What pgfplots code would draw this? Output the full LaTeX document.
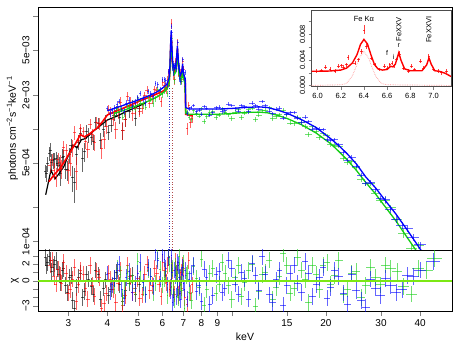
\documentclass[border=0pt]{standalone}
\usepackage{fontspec}
\setmainfont{Liberation Sans}
\usepackage{pgfplots}
\pgfplotsset{compat=1.18}
\usepackage{pgfplotstable}

\definecolor{rblue}{RGB}{0,0,255}
\definecolor{rgreen}{RGB}{20,205,20}
\definecolor{rred}{RGB}{255,0,0}
\definecolor{zeroline}{RGB}{124,232,20}
\definecolor{lpink}{RGB}{255,150,150}

% columns: energy, half bin width, flux, flux error, residual (chi)
\pgfplotstableread{
E ex y ey r
2.53 0.025 4.20e-4 5.7e-5 2.8
2.58 0.025 4.90e-4 7.3e-5 2.2
2.63 0.025 6.50e-4 9.2e-5 2.5
2.68 0.03 5.30e-4 8.6e-5 1.6
2.74 0.03 5.50e-4 7.9e-5 2.4
2.80 0.03 4.70e-4 8.8e-5 0.8
2.87 0.03 5.60e-4 9.7e-5 1.2
2.94 0.03 4.40e-4 7.8e-5 -0.6
3.02 0.035 5.90e-4 8.8e-5 0.4
3.10 0.035 3.70e-4 9.6e-5 -2.4
3.19 0.035 5.90e-4 1.09e-4 -0.8
3.28 0.04 9.20e-4 1.28e-4 0.9
3.38 0.04 6.30e-4 1.26e-4 -1.3
3.49 0.04 8.80e-4 1.36e-4 0.2
3.61 0.04 7.70e-4 1.14e-4 -1.6
3.74 0.045 1.12e-3 1.24e-4 0.7
3.88 0.045 9.80e-4 1.32e-4 -0.9
4.03 0.05 9.40e-4 1.44e-4 -1.8
4.20 0.05 1.32e-3 1.52e-4 0.3
4.38 0.05 1.27e-3 1.62e-4 -0.5
4.58 0.055 1.22e-3 1.72e-4 -1.2
4.80 0.06 1.63e-3 1.82e-4 0.6
5.05 0.06 1.52e-3 1.92e-4 -0.4
2.555 0.025 4.05e-4 6.4e-5 1.8
2.605 0.025 6.05e-4 8.1e-5 2.9
2.655 0.025 5.09e-4 9.0e-5 1.1
2.71 0.03 5.32e-4 8.1e-5 2.0
2.77 0.03 4.98e-4 8.4e-5 1.4
2.83 0.03 4.02e-4 9.2e-5 -0.2
2.90 0.03 5.71e-4 7.4e-5 1.5
2.98 0.035 4.34e-4 9.0e-5 -1.4
3.06 0.035 7.12e-4 1.04e-4 0.6
3.14 0.035 3.34e-4 1.14e-4 -3.3
3.23 0.04 7.66e-4 1.15e-4 0.4
3.33 0.04 5.47e-4 1.29e-4 -2.0
3.43 0.04 9.47e-4 1.34e-4 0.8
3.55 0.04 8.34e-4 1.09e-4 -0.7
3.67 0.045 1.145e-3 1.19e-4 1.3
3.81 0.045 7.94e-4 1.30e-4 -2.2
3.95 0.05 1.184e-3 1.40e-4 0.1
4.11 0.05 1.082e-3 1.48e-4 -1.0
4.29 0.05 1.456e-3 1.56e-4 1.0
4.48 0.055 9.65e-4 1.66e-4 -2.5
4.69 0.055 1.417e-3 1.76e-4 -0.3
4.92 0.06 1.252e-3 1.86e-4 -1.6
}\blackdata

\pgfplotstableread{
E ex y ey r
2.62 0.03 4.70e-4 6.3e-5 1.9
2.70 0.03 4.25e-4 7.0e-5 0.5
2.78 0.03 5.38e-4 7.7e-5 1.4
2.86 0.03 4.45e-4 8.5e-5 -0.3
2.95 0.04 6.39e-4 9.9e-5 0.9
3.04 0.04 4.97e-4 1.12e-4 -1.1
3.14 0.04 9.28e-4 1.30e-4 1.6
3.24 0.04 7.90e-4 1.01e-4 -0.5
3.35 0.04 9.42e-4 1.03e-4 0.8
3.46 0.05 6.62e-4 1.08e-4 -2.2
3.58 0.05 8.91e-4 1.15e-4 -0.6
3.70 0.05 1.154e-3 1.22e-4 1.1
3.83 0.05 6.78e-4 1.34e-4 -3.3
3.96 0.05 1.05e-3 1.54e-4 -1.5
4.10 0.06 1.41e-3 1.66e-4 0.2
4.25 0.06 9.90e-4 1.73e-4 -2.6
4.40 0.06 1.73e-3 1.80e-4 1.3
4.56 0.06 1.22e-3 1.87e-4 -1.8
4.73 0.07 1.73e-3 1.96e-4 0.5
4.90 0.07 1.52e-3 2.04e-4 -0.9
5.08 0.07 1.44e-3 1.59e-4 -2.1
5.27 0.07 1.97e-3 1.66e-4 0.8
5.46 0.08 1.70e-3 1.72e-4 -1.2
5.66 0.08 2.25e-3 1.78e-4 1.5
5.86 0.08 1.99e-3 1.85e-4 -0.4
6.02 0.05 2.58e-3 1.94e-4 2.2
6.14 0.05 2.34e-3 2.00e-4 0.6
6.24 0.04 2.73e-3 2.12e-4 1.8
6.32 0.03 2.64e-3 2.61e-4 -1.0
6.37 0.02 4.46e-3 4.30e-4 -0.8
6.40 0.02 8.60e-3 9.50e-4 1.9
6.43 0.02 5.90e-3 5.00e-4 0.6
6.48 0.03 3.98e-3 3.20e-4 1.2
6.56 0.03 2.74e-3 2.90e-4 -1.6
6.64 0.03 3.68e-3 3.10e-4 0.9
6.70 0.02 5.86e-3 4.70e-4 1.4
6.78 0.03 3.00e-3 2.90e-4 -0.7
6.88 0.03 3.16e-3 2.60e-4 1.0
6.97 0.03 3.96e-3 3.10e-4 1.8
7.06 0.03 2.38e-3 2.60e-4 -2.0
7.20 0.05 1.01e-3 1.22e-4 -2.8
7.38 0.06 1.14e-3 1.19e-4 -1.5
2.66 0.03 5.37e-4 6.7e-5 2.5
2.74 0.03 3.80e-4 7.4e-5 -0.4
2.82 0.03 5.01e-4 8.0e-5 0.7
2.90 0.03 6.91e-4 8.9e-5 2.2
3.00 0.04 4.31e-4 1.06e-4 -1.5
3.09 0.04 6.84e-4 1.19e-4 0.2
3.19 0.04 4.23e-4 1.39e-4 -2.5
3.29 0.04 1.007e-3 1.06e-4 1.2
3.40 0.04 7.67e-4 1.03e-4 -0.9
3.52 0.05 1.106e-3 1.09e-4 1.8
3.64 0.05 7.56e-4 1.18e-4 -1.9
3.76 0.05 1.111e-3 1.27e-4 0.4
3.90 0.05 8.11e-4 1.44e-4 -2.7
4.03 0.05 1.485e-3 1.61e-4 0.9
4.18 0.06 1.224e-3 1.69e-4 -1.1
4.33 0.06 1.408e-3 1.75e-4 -0.3
4.48 0.06 9.78e-4 1.84e-4 -3.0
4.64 0.06 1.953e-3 1.91e-4 1.9
4.82 0.07 1.381e-3 1.99e-4 -1.4
5.00 0.07 1.787e-3 1.57e-4 0.3
5.18 0.07 1.533e-3 1.63e-4 -1.7
5.37 0.08 2.218e-3 1.69e-4 2.0
5.56 0.08 1.835e-3 1.75e-4 -0.6
5.76 0.08 2.184e-3 1.82e-4 0.9
5.94 0.06 1.749e-3 1.90e-4 -1.9
6.08 0.05 2.446e-3 1.97e-4 1.3
6.19 0.04 2.239e-3 2.05e-4 -0.2
6.28 0.03 3.153e-3 2.25e-4 2.9
6.52 0.03 3.02e-3 3.00e-4 -1.1
6.60 0.03 3.99e-3 3.00e-4 2.3
6.74 0.03 3.27e-3 3.50e-4 -1.8
6.83 0.03 3.108e-3 2.70e-4 0.4
6.92 0.03 2.757e-3 2.70e-4 -0.9
7.01 0.03 3.348e-3 2.65e-4 1.5
7.28 0.05 1.618e-3 1.20e-4 2.4
7.47 0.06 1.242e-3 1.17e-4 -0.5
}\reddata

\pgfplotstableread{
E ex y ey r
4.20 0.03 1.321e-3 8.2e-5 -0.6
4.40 0.03 1.488e-3 8.5e-5 0.8
4.55 0.03 1.373e-3 8.9e-5 -1.2
4.70 0.03 1.558e-3 9.2e-5 0.3
4.90 0.04 1.504e-3 9.5e-5 -0.9
5.10 0.04 1.770e-3 1.00e-4 1.1
5.30 0.04 1.564e-3 1.04e-4 -1.6
5.50 0.04 1.854e-3 1.08e-4 0.5
5.70 0.04 1.856e-3 1.13e-4 -0.3
5.90 0.04 2.168e-3 1.20e-4 1.4
6.08 0.03 2.166e-3 1.28e-4 0.2
6.22 0.03 2.052e-3 1.38e-4 -1.8
6.32 0.02 3.360e-3 1.80e-4 2.0
6.39 0.02 5.173e-3 3.24e-4 -0.7
6.46 0.02 4.687e-3 2.58e-4 1.5
6.55 0.03 2.715e-3 1.89e-4 -2.3
6.64 0.03 3.794e-3 2.16e-4 0.9
6.71 0.02 4.016e-3 2.58e-4 -1.1
6.78 0.03 3.639e-3 1.86e-4 2.9
6.87 0.03 2.733e-3 1.68e-4 -0.4
6.96 0.03 3.074e-3 1.74e-4 1.0
7.04 0.03 2.246e-3 1.68e-4 -3.3
7.14 0.05 1.386e-3 6.1e-5 0.6
7.30 0.07 1.265e-3 6.1e-5 -1.4
7.55 0.09 1.453e-3 6.1e-5 1.7
7.85 0.1 1.301e-3 6.1e-5 -0.8
8.15 0.1 1.168e-3 6.1e-5 -3.0
8.50 0.12 1.405e-3 6.1e-5 0.9
8.90 0.15 1.259e-3 6.1e-5 -1.5
9.30 0.15 1.495e-3 6.1e-5 2.2
9.75 0.18 1.333e-3 6.2e-5 -0.6
10.25 0.2 1.405e-3 6.2e-5 0.4
10.75 0.2 1.271e-3 6.3e-5 -1.9
11.3 0.22 1.476e-3 6.3e-5 1.2
11.9 0.25 1.213e-3 6.3e-5 -3.1
12.5 0.25 1.454e-3 6.3e-5 0.7
13.15 0.3 1.546e-3 6.3e-5 2.5
13.85 0.3 1.292e-3 6.0e-5 -0.8
14.6 0.35 1.470e-3 5.8e-5 3.3
15.4 0.35 1.128e-3 5.4e-5 -1.5
16.25 0.4 1.272e-3 5.1e-5 2.8
17.15 0.4 1.055e-3 4.7e-5 0.1
18.1 0.45 1.042e-3 4.3e-5 1.9
19.1 0.45 8.36e-4 4.0e-5 -1.1
20.15 0.5 8.68e-4 3.6e-5 2.2
21.3 0.55 7.19e-4 3.2e-5 0.6
22.7 0.6 5.45e-4 2.7e-5 -1.7
24.2 0.7 5.10e-4 2.2e-5 0.9
25.9 0.8 3.55e-4 1.8e-5 -2.0
27.8 0.9 3.27e-4 1.4e-5 1.6
29.9 1.0 2.30e-4 1.1e-5 -0.5
32.2 1.2 1.99e-4 1.4e-5 1.5
35.5 1.5 1.18e-4 1.0e-5 -0.7
39.5 1.8 9.30e-5 6.6e-6 1.5
44.5 2.5 6.10e-5 4.0e-6 2.7
4.30 0.03 1.521e-3 8.4e-5 1.5
4.48 0.03 1.276e-3 8.7e-5 -2.0
4.62 0.03 1.586e-3 9.0e-5 0.9
4.80 0.04 1.541e-3 9.4e-5 -0.2
5.00 0.04 1.849e-3 9.8e-5 2.3
5.20 0.04 1.614e-3 1.02e-4 -0.8
5.40 0.04 1.903e-3 1.06e-4 1.3
5.60 0.04 1.690e-3 1.10e-4 -1.4
5.80 0.04 2.260e-3 1.17e-4 2.7
6.00 0.04 2.008e-3 1.24e-4 -0.5
6.15 0.03 2.345e-3 1.32e-4 1.1
6.27 0.03 2.832e-3 1.44e-4 3.0
6.42 0.02 6.325e-3 3.50e-4 1.2
6.50 0.03 3.169e-3 2.00e-4 -0.9
6.60 0.03 3.416e-3 1.90e-4 1.7
6.68 0.02 4.377e-3 2.60e-4 0.3
6.74 0.02 3.256e-3 2.20e-4 -2.0
6.82 0.03 3.072e-3 1.70e-4 1.3
6.92 0.03 2.645e-3 1.70e-4 -1.2
7.00 0.03 3.209e-3 1.70e-4 2.1
7.22 0.06 1.405e-3 6.1e-5 0.9
7.42 0.08 1.204e-3 6.1e-5 -2.4
7.70 0.1 1.368e-3 6.1e-5 0.3
8.00 0.1 1.508e-3 6.1e-5 2.6
8.32 0.12 1.283e-3 6.1e-5 -1.1
8.70 0.15 1.441e-3 6.1e-5 1.5
9.10 0.15 1.326e-3 6.1e-5 -0.4
9.52 0.15 1.415e-3 6.1e-5 0.9
10.0 0.2 1.228e-3 6.2e-5 -2.3
10.5 0.2 1.497e-3 6.2e-5 1.8
11.0 0.2 1.387e-3 6.3e-5 -0.2
11.6 0.25 1.531e-3 6.3e-5 2.0
12.2 0.25 1.328e-3 6.3e-5 -1.3
12.8 0.3 1.463e-3 6.3e-5 1.0
13.5 0.3 1.230e-3 6.1e-5 -2.2
14.2 0.3 1.339e-3 5.9e-5 0.5
15.0 0.35 1.340e-3 5.6e-5 1.8
15.8 0.35 1.123e-3 5.3e-5 -0.9
16.7 0.4 1.154e-3 4.9e-5 1.3
17.6 0.4 8.87e-4 4.5e-5 -2.6
18.6 0.45 9.53e-4 4.1e-5 0.8
19.6 0.45 9.06e-4 3.8e-5 1.9
20.7 0.5 7.27e-4 3.3e-5 -0.4
22.0 0.6 6.98e-4 2.8e-5 2.4
23.4 0.6 5.06e-4 2.4e-5 -1.0
25.0 0.7 4.51e-4 1.9e-5 1.1
26.8 0.8 3.26e-4 1.5e-5 -0.6
28.8 0.9 2.70e-4 1.2e-5 0.4
31.0 1.0 2.33e-4 1.6e-5 1.9
33.8 1.2 1.58e-4 1.2e-5 1.1
37.5 1.5 8.70e-5 8.0e-6 -1.6
42.0 2.0 7.00e-5 5.0e-6 1.2
}\greendata

\pgfplotstableread{
E ex y ey r
4.00 0.03 1.520e-3 8.7e-5 0.8
4.15 0.03 1.455e-3 9.0e-5 -0.5
4.30 0.03 1.662e-3 9.3e-5 1.2
4.45 0.03 1.504e-3 9.6e-5 -1.0
4.60 0.03 1.700e-3 1.00e-4 0.4
4.80 0.04 1.585e-3 1.04e-4 -1.4
5.00 0.04 1.897e-3 1.08e-4 0.9
5.20 0.04 1.857e-3 1.13e-4 -0.2
5.40 0.04 2.148e-3 1.18e-4 1.6
5.60 0.04 1.964e-3 1.23e-4 -0.7
5.80 0.04 2.460e-3 1.29e-4 2.4
6.00 0.04 2.742e-3 1.38e-4 3.2
6.15 0.03 2.671e-3 1.47e-4 1.5
6.28 0.03 3.212e-3 1.65e-4 2.8
6.36 0.02 4.269e-3 2.76e-4 -1.2
6.42 0.02 7.208e-3 4.08e-4 1.0
6.50 0.03 3.168e-3 2.16e-4 -2.0
6.60 0.03 3.626e-3 2.10e-4 0.6
6.68 0.02 4.379e-3 2.76e-4 -0.8
6.74 0.02 4.321e-3 2.34e-4 1.8
6.82 0.03 2.821e-3 1.86e-4 -1.5
6.92 0.03 3.230e-3 1.86e-4 0.7
7.00 0.03 3.142e-3 1.92e-4 -0.3
7.08 0.03 3.162e-3 1.77e-4 1.2
7.20 0.06 1.368e-3 6.0e-5 -2.2
7.40 0.08 1.554e-3 6.0e-5 0.9
7.70 0.1 1.422e-3 6.0e-5 -1.3
8.00 0.1 1.350e-3 6.0e-5 -2.5
8.30 0.12 1.524e-3 6.0e-5 0.4
8.70 0.15 1.392e-3 6.0e-5 -1.8
9.10 0.15 1.566e-3 6.0e-5 1.1
9.50 0.15 1.456e-3 6.0e-5 -0.9
10.0 0.2 1.611e-3 6.1e-5 1.5
10.5 0.2 1.441e-3 6.2e-5 -1.6
11.0 0.2 1.569e-3 6.2e-5 0.3
11.6 0.25 1.691e-3 6.2e-5 2.1
12.2 0.25 1.495e-3 6.3e-5 -1.2
12.8 0.3 1.610e-3 6.2e-5 0.8
13.5 0.3 1.362e-3 6.1e-5 -2.6
14.2 0.3 1.525e-3 5.8e-5 1.3
15.0 0.35 1.347e-3 5.5e-5 -0.6
15.8 0.35 1.399e-3 5.2e-5 1.9
16.7 0.4 1.142e-3 4.8e-5 -1.4
17.6 0.4 1.160e-3 4.5e-5 0.9
18.6 0.45 1.009e-3 4.1e-5 -0.5
19.6 0.45 9.90e-4 3.7e-5 1.6
20.7 0.5 7.94e-4 3.3e-5 -0.8
22.0 0.6 7.24e-4 2.8e-5 0.5
23.4 0.6 5.30e-4 2.4e-5 -2.9
25.0 0.7 4.66e-4 2.0e-5 -1.2
26.8 0.8 3.27e-4 1.5e-5 -3.2
28.8 0.9 2.89e-4 1.2e-5 -0.9
31.0 1.0 2.35e-4 1.6e-5 0.3
33.5 1.2 1.58e-4 1.2e-5 -1.4
36.5 1.4 1.30e-4 8.8e-6 0.6
40.0 1.8 9.38e-5 6.0e-6 1.3
44.0 2.2 6.70e-5 4.1e-6 2.3
4.08 0.03 1.360e-3 8.9e-5 -1.3
4.22 0.03 1.552e-3 9.2e-5 0.3
4.37 0.03 1.764e-3 9.5e-5 2.0
4.52 0.03 1.425e-3 9.8e-5 -2.1
4.70 0.04 1.807e-3 1.02e-4 1.1
4.90 0.04 1.723e-3 1.06e-4 -0.4
5.10 0.04 2.083e-3 1.10e-4 2.2
5.30 0.04 1.724e-3 1.15e-4 -1.7
5.50 0.04 2.060e-3 1.20e-4 0.5
5.70 0.04 2.528e-3 1.26e-4 3.4
5.90 0.04 2.247e-3 1.33e-4 0.2
6.08 0.03 2.751e-3 1.43e-4 2.6
6.22 0.03 2.474e-3 1.53e-4 -0.5
6.39 0.02 8.06e-3 4.10e-4 3.1
6.46 0.02 3.545e-3 2.50e-4 -2.6
6.55 0.03 3.665e-3 2.00e-4 1.3
6.64 0.03 3.455e-3 2.30e-4 -1.9
6.71 0.02 5.886e-3 3.10e-4 2.2
6.78 0.03 3.482e-3 2.00e-4 0.4
6.87 0.03 2.629e-3 1.80e-4 -2.3
6.96 0.03 4.165e-3 2.30e-4 1.6
7.04 0.03 2.820e-3 1.80e-4 -1.0
7.30 0.07 1.512e-3 6.0e-5 0.2
7.55 0.09 1.614e-3 6.0e-5 1.9
7.85 0.1 1.464e-3 6.0e-5 -0.6
8.15 0.1 1.584e-3 6.0e-5 1.4
8.50 0.12 1.326e-3 6.0e-5 -2.9
8.90 0.15 1.542e-3 6.0e-5 0.7
9.30 0.15 1.416e-3 6.0e-5 -1.4
9.75 0.18 1.661e-3 6.0e-5 2.5
10.25 0.2 1.506e-3 6.1e-5 -0.4
10.75 0.2 1.607e-3 6.2e-5 1.0
11.3 0.22 1.418e-3 6.2e-5 -2.2
11.9 0.25 1.603e-3 6.3e-5 0.6
12.5 0.25 1.747e-3 6.3e-5 2.9
13.15 0.3 1.440e-3 6.2e-5 -1.7
13.85 0.3 1.496e-3 6.0e-5 0.1
14.6 0.35 1.250e-3 5.7e-5 -3.0
15.4 0.35 1.388e-3 5.4e-5 0.9
16.25 0.4 1.240e-3 5.0e-5 -0.3
17.15 0.4 1.272e-3 4.7e-5 2.3
18.1 0.45 9.93e-4 4.3e-5 -1.9
19.1 0.45 9.96e-4 3.9e-5 0.4
20.15 0.5 8.02e-4 3.5e-5 -2.1
21.3 0.55 8.07e-4 3.1e-5 1.2
22.7 0.6 6.16e-4 2.6e-5 -1.5
24.2 0.7 5.62e-4 2.2e-5 0.8
25.9 0.8 3.89e-4 1.7e-5 -2.4
27.8 0.9 3.38e-4 1.3e-5 0.2
29.9 1.0 2.43e-4 1.0e-5 -1.8
32.2 1.2 1.92e-4 1.4e-5 -0.6
35.0 1.4 1.38e-4 1.0e-5 -1.1
38.0 1.6 1.09e-4 7.4e-6 0.5
}\bluedata

% zoom on the iron lines (red spectrum only)
\pgfplotstableread{
E ex y ey
5.993 0.012 0.00222 0.0003
6.036 0.012 0.00233 0.0003
6.070 0.012 0.00284 0.0003
6.107 0.012 0.00258 0.0003
6.150 0.012 0.00222 0.0003
6.179 0.012 0.00299 0.0003
6.208 0.012 0.00310 0.0003
6.222 0.012 0.00290 0.0003
6.250 0.012 0.00326 0.0003
6.265 0.008 0.00439 0.0004
6.322 0.012 0.00352 0.0003
6.351 0.012 0.00403 0.0003
6.380 0.010 0.00532 0.0004
6.402 0.008 0.00868 0.0007
6.423 0.010 0.00609 0.0004
6.466 0.012 0.00429 0.0003
6.494 0.012 0.00326 0.0003
6.537 0.012 0.00248 0.0003
6.580 0.012 0.00299 0.0003
6.604 0.012 0.00274 0.0003
6.623 0.010 0.00326 0.0003
6.643 0.010 0.00352 0.0003
6.660 0.010 0.00310 0.0003
6.681 0.010 0.00403 0.0003
6.709 0.010 0.00491 0.0004
6.738 0.012 0.00274 0.0003
6.781 0.012 0.00222 0.0003
6.810 0.012 0.00299 0.0003
6.838 0.012 0.00248 0.0003
6.890 0.012 0.00377 0.0003
6.910 0.012 0.00274 0.0003
6.959 0.010 0.00454 0.0004
6.996 0.012 0.00248 0.0003
7.039 0.012 0.00222 0.0003
7.068 0.012 0.00197 0.0003
7.111 0.015 0.00222 0.0003
}\insetdata

% crosses only: a zero-size dash as mark, the error bars make the cross
\pgfplotsset{
  dat/.style={only marks, mark=-, mark size=0pt,
    error bars/.cd, x dir=both, x explicit, y dir=both, y explicit, error mark=none,
    error bar style={#1, line width=0.8pt, opacity=0.6}},
  res/.style={only marks, mark=-, mark size=0pt,
    error bars/.cd, x dir=both, x explicit, y dir=both, y fixed=1, error mark=none,
    error bar style={#1, line width=0.8pt, opacity=0.6}},
}

\begin{document}
\begin{tikzpicture}
\useasboundingbox (-38pt,-95pt) rectangle (422pt,250pt);

% ---- main spectrum ----
\begin{axis}[
    at={(0pt,0pt)}, anchor=south west, scale only axis,
    width=414pt, height=243pt,
    xmode=log, ymode=log,
    xmin=2.4, xmax=50.6, ymin=8.4e-5, ymax=1.21e-2,
    xtick=\empty,
    ytick={1e-4,2e-4,5e-4,1e-3,2e-3,5e-3,1e-2},
    yticklabels={1e−04,,5e−04,,2e−03,5e−03,},
    ytick pos=left, tick align=outside, major tick length=5pt,
    xminorticks=false, yminorticks=false,
    yticklabel style={rotate=90, anchor=south, font=\fontsize{10}{12}\selectfont},
    ylabel={photons cm\textsuperscript{−2}s\textsuperscript{−1}keV\textsuperscript{−1}},
    ylabel style={at={(axis description cs:-0.062,0.5)}, anchor=center, font=\fontsize{10.5}{12}\selectfont},
    axis line style={line width=0.6pt},
]
\addplot[dat=black] table[x=E, y=y, x error=ex, y error=ey] {\blackdata};
\addplot[black, line width=1.2pt] coordinates {
    (2.54,2.6e-4) (2.64,4.3e-4) (2.72,3.6e-4) (2.80,4.0e-4) (2.9,4.6e-4)
    (3.0,5.8e-4) (3.1,7.2e-4) (3.2,6.8e-4) (3.3,8.0e-4) (3.4,8.2e-4)
    (3.6,9.5e-4) (3.8,1.07e-3) (4.0,1.2e-3) (4.3,1.3e-3) (4.6,1.43e-3)
    (5.0,1.58e-3) (5.3,1.7e-3)};

\addplot[dat=rred] table[x=E, y=y, x error=ex, y error=ey] {\reddata};
\addplot[rred, line width=1.6pt] coordinates {
    (2.60,3.4e-4) (2.70,3.9e-4) (2.83,4.5e-4) (2.95,5.4e-4) (3.05,6.3e-4)
    (3.18,7.6e-4) (3.28,8.9e-4) (3.38,8.5e-4) (3.5,9.0e-4) (3.71,1.02e-3)
    (3.85,1.15e-3) (4.0,1.33e-3) (4.3,1.45e-3) (4.6,1.57e-3) (5.1,1.78e-3)
    (5.6,1.98e-3) (6.0,2.15e-3) (6.2,2.3e-3) (6.3,2.6e-3) (6.34,3.3e-3)
    (6.37,5.0e-3) (6.40,6.8e-3) (6.43,5.0e-3) (6.47,3.6e-3) (6.55,3.2e-3)
    (6.62,3.4e-3) (6.67,4.3e-3) (6.70,5.2e-3) (6.73,4.1e-3) (6.78,3.2e-3)
    (6.85,2.9e-3) (6.92,3.0e-3) (6.96,3.6e-3) (7.0,3.0e-3) (7.06,2.8e-3)
    (7.10,2.7e-3) (7.12,1.35e-3) (7.5,1.3e-3)};

\addplot[dat=rgreen] table[x=E, y=y, x error=ex, y error=ey] {\greendata};
\addplot[rgreen, line width=1.3pt] coordinates {
    (4.2,1.37e-3) (4.5,1.46e-3) (5.0,1.62e-3) (5.5,1.80e-3) (5.8,1.94e-3)
    (6.0,2.07e-3) (6.2,2.25e-3) (6.3,2.5e-3) (6.34,3.2e-3) (6.37,4.9e-3)
    (6.40,6.6e-3) (6.43,4.9e-3) (6.47,3.5e-3) (6.55,3.05e-3) (6.62,3.2e-3)
    (6.67,4.1e-3) (6.70,4.9e-3) (6.73,3.9e-3) (6.78,3.05e-3) (6.85,2.7e-3)
    (6.92,2.85e-3) (6.96,3.4e-3) (7.0,2.85e-3) (7.06,2.6e-3) (7.10,2.5e-3)
    (7.12,1.38e-3) (7.3,1.35e-3) (8,1.35e-3) (9,1.35e-3) (10,1.37e-3)
    (11,1.40e-3) (12.2,1.41e-3) (13,1.39e-3) (14,1.32e-3) (15,1.24e-3)
    (16.7,1.09e-3) (18.6,9.2e-4) (20.7,7.4e-4) (22,6.3e-4) (23.4,5.3e-4)
    (25,4.3e-4) (26.8,3.35e-4) (28.8,2.65e-4) (31,2.02e-4) (33.5,1.52e-4)
    (36.5,1.07e-4) (40,7.4e-5)};

\addplot[dat=rblue] table[x=E, y=y, x error=ex, y error=ey] {\bluedata};
\addplot[rblue, line width=1.3pt] coordinates {
    (4.0,1.45e-3) (4.5,1.62e-3) (5.0,1.80e-3) (5.5,2.0e-3) (5.8,2.15e-3)
    (6.0,2.3e-3) (6.2,2.5e-3) (6.3,2.8e-3) (6.34,3.6e-3) (6.37,5.5e-3)
    (6.40,7.5e-3) (6.43,5.5e-3) (6.47,3.9e-3) (6.55,3.4e-3) (6.62,3.6e-3)
    (6.67,4.6e-3) (6.70,5.5e-3) (6.73,4.4e-3) (6.78,3.4e-3) (6.85,3.0e-3)
    (6.92,3.2e-3) (6.96,3.8e-3) (7.0,3.2e-3) (7.06,2.9e-3) (7.10,2.8e-3)
    (7.12,1.55e-3) (7.3,1.5e-3) (8,1.5e-3) (9,1.5e-3) (10,1.52e-3)
    (11,1.55e-3) (12.2,1.57e-3) (13,1.55e-3) (14,1.47e-3) (15,1.38e-3)
    (16.7,1.21e-3) (18.6,1.03e-3) (20.7,8.2e-4) (22,7.1e-4) (23.4,6.0e-4)
    (25,4.9e-4) (26.8,3.75e-4) (28.8,3.0e-4) (31,2.3e-4) (33.5,1.75e-4)
    (36.5,1.25e-4) (40,8.6e-5) (42,7.0e-5)};

% narrow gaussian components
\addplot[rblue!70!gray, dotted, line width=0.6pt] coordinates {(6.30,8e-5) (6.30,2.5e-3)};
\addplot[rred!40!gray, dotted, line width=0.6pt] coordinates {(6.46,8e-5) (6.46,2.4e-3)};
\end{axis}

% ---- residuals ----
\begin{axis}[
    at={(0pt,0pt)}, anchor=north west, scale only axis,
    width=414pt, height=61pt,
    xmode=log,
    xmin=2.4, xmax=50.6, ymin=-3.65, ymax=3.7,
    xtick={3,4,5,6,7,8,9,10,15,20,30,40},
    xticklabels={3,4,5,6,7,8,9,,15,20,30,40},
    ytick={-3,-2,-1,0,1,2,3},
    yticklabels={−3,,,0,,2,},
    xtick pos=bottom, ytick pos=left, tick align=outside, major tick length=5pt,
    xminorticks=false, yminorticks=false,
    xticklabel style={font=\fontsize{10}{12}\selectfont},
    yticklabel style={rotate=90, anchor=south, font=\fontsize{10}{12}\selectfont},
    xlabel={keV}, ylabel={χ},
    xlabel style={at={(axis description cs:0.5,-0.43)}, anchor=center, font=\fontsize{10.5}{12}\selectfont},
    ylabel style={at={(axis description cs:-0.056,0.5)}, anchor=center, font=\fontsize{10.5}{12}\selectfont},
    axis line style={line width=0.6pt},
]
\addplot[res=black] table[x=E, y=r, x error=ex] {\blackdata};
\addplot[res=rred] table[x=E, y=r, x error=ex] {\reddata};
\addplot[res=rgreen] table[x=E, y=r, x error=ex] {\greendata};
\addplot[res=rblue] table[x=E, y=r, x error=ex] {\bluedata};
\addplot[zeroline, line width=1.6pt] coordinates {(2.4,0) (50.6,0)};
\end{axis}

% ---- inset: iron line complex ----
\begin{axis}[
    at={(273.7pt,163.3pt)}, anchor=south west, scale only axis,
    width=139.3pt, height=76.7pt,
    xmin=5.95, xmax=7.15, ymin=-0.0002, ymax=0.0118,
    axis background/.style={fill=white},
    xtick={6,6.2,6.4,6.6,6.8,7},
    xticklabels={6.0,6.2,6.4,6.6,6.8,7.0},
    ytick={0,0.002,0.004,0.006,0.008,0.010},
    yticklabels={0.000,,0.004,,0.008,},
    scaled y ticks=false,
    xtick pos=bottom, ytick pos=left, tick align=outside, major tick length=3pt,
    xticklabel style={font=\fontsize{7.5}{9}\selectfont},
    yticklabel style={rotate=90, anchor=south, font=\fontsize{7.5}{9}\selectfont},
    axis line style={line width=0.5pt, black!70},
]
\addplot[lpink, densely dotted, line width=0.7pt] coordinates {
    (5.95,0) (6.2,0.0001) (6.25,0.0003) (6.30,0.0015) (6.33,0.0028)
    (6.36,0.0043) (6.40,0.0053) (6.44,0.0043) (6.47,0.0028) (6.50,0.0015)
    (6.55,0.0003) (6.6,0.0001) (7.15,0)};
\addplot[only marks, mark=-, mark size=0pt,
    error bars/.cd, x dir=both, x explicit, y dir=both, y explicit, error mark=none,
    error bar style={rred, line width=0.7pt, opacity=0.75}]
    table[x=E, y=y, x error=ex, y error=ey] {\insetdata};
\addplot[rred, line width=1.4pt] coordinates {
    (5.95,0.00222) (6.0,0.00222) (6.1,0.00225) (6.2,0.0024) (6.25,0.0027)
    (6.3,0.0035) (6.34,0.0048) (6.37,0.0064) (6.40,0.0072) (6.43,0.0065)
    (6.46,0.0048) (6.49,0.0033) (6.52,0.0026) (6.56,0.0024) (6.60,0.0025)
    (6.63,0.0030) (6.65,0.0029) (6.67,0.0033) (6.70,0.0051) (6.72,0.0039)
    (6.75,0.0026) (6.80,0.0023) (6.90,0.0023) (6.94,0.0032) (6.96,0.0043)
    (6.98,0.0033) (7.01,0.0023) (7.05,0.0022) (7.10,0.0019) (7.15,0.0014)};
\node[font=\fontsize{7.5}{9}\selectfont] at (axis cs:6.40,0.0104) {Fe Kα};
\node[rotate=90, font=\fontsize{7.5}{9}\selectfont] at (axis cs:6.70,0.0088) {FeXXV};
\node[rotate=90, font=\fontsize{7.5}{9}\selectfont] at (axis cs:6.96,0.0087) {FeXXVI};
\node[font=\fontsize{7}{8}\selectfont] at (axis cs:6.60,0.0050) {f};
\node[font=\fontsize{7}{8}\selectfont] at (axis cs:6.655,0.0044) {i};
\node[font=\fontsize{7}{8}\selectfont] at (axis cs:6.70,0.0062) {r};
\end{axis}
\end{tikzpicture}
\end{document}
